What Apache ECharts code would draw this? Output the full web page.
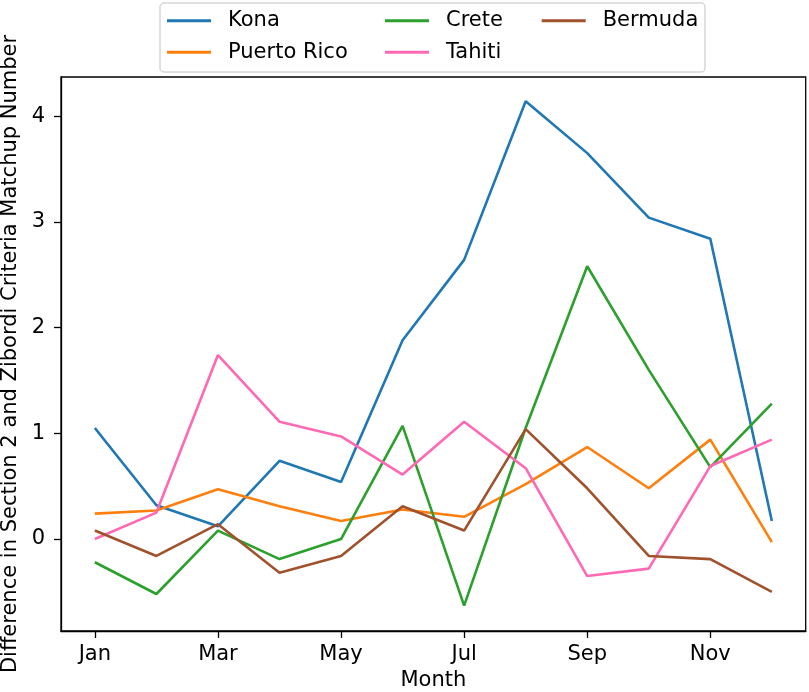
<!DOCTYPE html>
<html>
<head>
<meta charset="utf-8">
<title>Section 2 vs Zibordi</title>
<script src="https://cdn.jsdelivr.net/npm/echarts@6/dist/echarts.min.js"></script>
<style>
  html, body { margin: 0; padding: 0; background: #fff; }
  #main { width: 809px; height: 692px; }
</style>
</head>
<body>
<div id="main"></div>
<script>
// data
var months = ['Jan', 'Feb', 'Mar', 'Apr', 'May', 'Jun', 'Jul', 'Aug', 'Sep', 'Oct', 'Nov', 'Dec'];
var xTicks = [0, 2, 4, 6, 8, 10];
var yTicks = [0, 1, 2, 3, 4];

var kona       = [1.05, 0.32, 0.12, 0.74, 0.54, 1.88, 2.64, 4.14, 3.65, 3.04, 2.84, 0.17];
var puertoRico = [0.24, 0.27, 0.47, 0.31, 0.17, 0.28, 0.21, 0.52, 0.87, 0.48, 0.94, -0.03];
var crete      = [-0.22, -0.52, 0.08, -0.19, 0.00, 1.07, -0.63, 1.05, 2.58, 1.60, 0.68, 1.28];
var tahiti     = [0.00, 0.25, 1.74, 1.11, 0.97, 0.61, 1.11, 0.67, -0.35, -0.28, 0.69, 0.94];
var bermuda    = [0.08, -0.16, 0.14, -0.32, -0.16, 0.31, 0.08, 1.04, 0.48, -0.16, -0.19, -0.50];

var names  = ['Kona', 'Puerto Rico', 'Crete', 'Tahiti', 'Bermuda'];
var values = [kona, puertoRico, crete, tahiti, bermuda];
var colors = ['#1f77b4', '#ff7f0e', '#2ca02c', '#ff69b4', '#a0522d'];

var FONT = 'DejaVu Sans';
var FS = 21;

var myChart = echarts.init(document.getElementById('main'), null, { renderer: 'canvas' });

function legendCol(left, data) {
	return {
		data: data,
		orient: 'vertical',
		left: left,
		top: 8.7,
		padding: 0,
		itemGap: 7.6,
		itemWidth: 44,
		itemHeight: 3,
		icon: 'rect',
		textStyle: { fontFamily: FONT, fontSize: FS, color: '#000', lineHeight: 24, padding: [0, 0, 0, 12] }
	};
}

var series = names.map(function (n, k) {
	return {
		name: n,
		type: 'line',
		data: values[k].map(function (v, i) { return [i, v]; }),
		showSymbol: false,
		symbol: 'none',
		lineStyle: { width: 2.6, color: colors[k] },
		itemStyle: { color: colors[k] },
		emphasis: { disabled: true },
		animation: false
	};
});

var axisLineStyle = { color: '#000', width: 1.3 };

var option = {
	animation: false,
	color: colors,
	legend: [
		legendCol(167, ['Kona', 'Puerto Rico']),
		legendCol(385, ['Crete', 'Tahiti']),
		legendCol(541.7, ['Bermuda'])
	],
	graphic: [{
		type: 'rect',
		shape: { x: 160, y: 3, width: 545, height: 69, r: 4 },
		style: { fill: 'rgba(255,255,255,0.8)', stroke: '#d6d6d6', lineWidth: 1.5 },
		z: -1
	}],
	grid: {
		left: 61, right: 3.3, top: 77, bottom: 61,
		outerBoundsMode: 'none',
		containLabel: false,
		show: true, borderColor: '#000', borderWidth: 1.3, backgroundColor: 'transparent'
	},
	xAxis: {
		type: 'value',
		min: -0.55,
		max: 11.55,
		name: 'Month',
		nameLocation: 'middle',
		nameGap: 38,
		nameTextStyle: { fontFamily: FONT, fontSize: FS, color: '#000' },
		axisLine: { show: true, onZero: false, lineStyle: axisLineStyle },
		axisTick: { show: true, length: 7, customValues: xTicks, lineStyle: axisLineStyle },
		axisLabel: {
			customValues: xTicks,
			margin: 13,
			fontFamily: FONT, fontSize: FS, color: '#000',
			formatter: function (v) { return months[Math.round(v)] || ''; }
		},
		splitLine: { show: false }
	},
	yAxis: {
		type: 'value',
		min: -0.87,
		max: 4.37,
		name: 'Difference in Section 2 and Zibordi Criteria Matchup Number',
		nameLocation: 'middle',
		nameGap: 34,
		nameTextStyle: { fontFamily: FONT, fontSize: FS, color: '#000' },
		axisLine: { show: true, onZero: false, lineStyle: axisLineStyle },
		axisTick: { show: true, length: 7, customValues: yTicks, lineStyle: axisLineStyle },
		axisLabel: {
			customValues: yTicks,
			margin: 16,
			fontFamily: FONT, fontSize: FS, color: '#000',
			formatter: function (v) { return Math.abs(v - Math.round(v)) < 1e-6 ? String(Math.round(v)) : ''; }
		},
		splitLine: { show: false }
	},
	series: series
};

myChart.setOption(option);
</script>
</body>
</html>
